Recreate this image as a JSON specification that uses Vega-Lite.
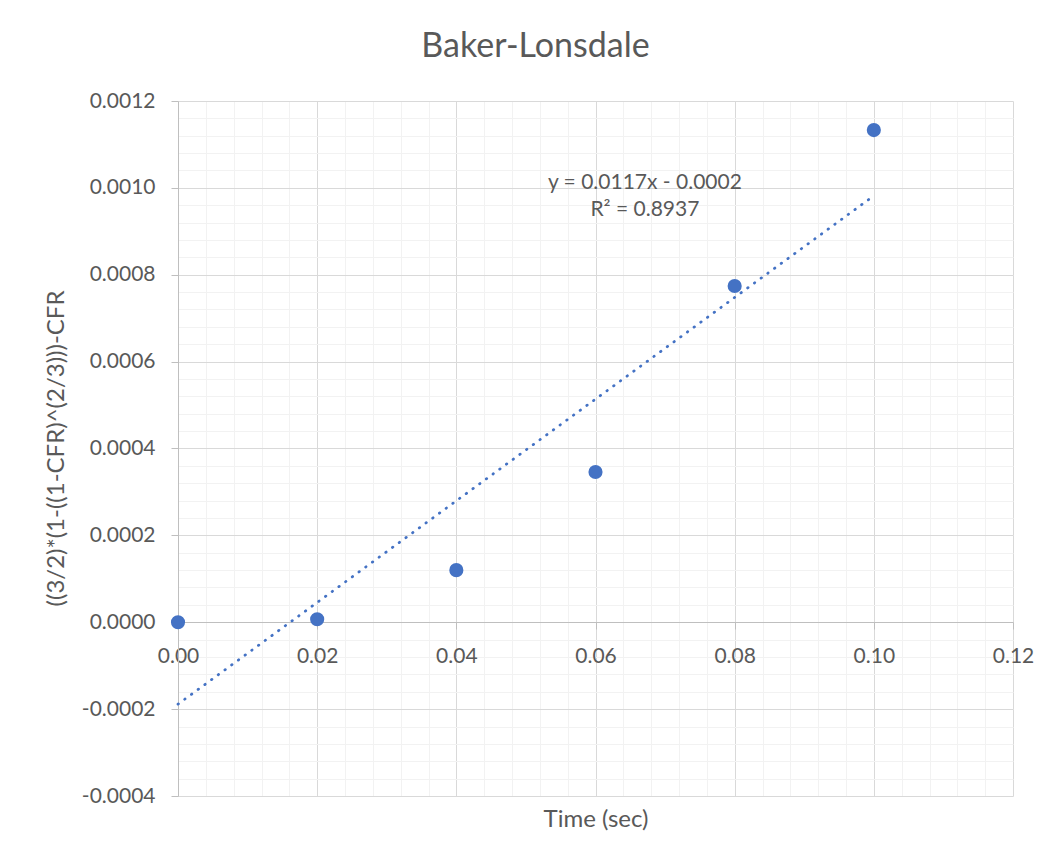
{
  "$schema": "https://vega.github.io/schema/vega-lite/v6.json",
  "width": 835,
  "height": 695,
  "autosize": {"type": "none"},
  "padding": {"left": 178, "top": 101, "right": 47, "bottom": 69},
  "background": "white",
  "title": {
    "text": "Baker-Lonsdale",
    "font": "Lato",
    "fontSize": 34,
    "fontWeight": "normal",
    "color": "#595959",
    "anchor": "middle",
    "frame": "group",
    "baseline": "alphabetic",
    "offset": 43,
    "dy": 44,
    "dx": -60
  },
  "data": {
    "values": [
      {"time": 0.0, "value": 0.0},
      {"time": 0.02, "value": 0.0000068},
      {"time": 0.04, "value": 0.00012},
      {"time": 0.06, "value": 0.000346},
      {"time": 0.08, "value": 0.000774},
      {"time": 0.1, "value": 0.001133}
    ]
  },
  "config": {
    "font": "Lato",
    "view": {"stroke": null},
    "axis": {
      "labelFont": "Lato",
      "titleFont": "Lato",
      "labelColor": "#595959",
      "titleColor": "#595959",
      "labelFontSize": 21,
      "titleFontSize": 24,
      "titleFontWeight": "normal",
      "domainColor": "#bfbfbf",
      "tickColor": "#bfbfbf",
      "gridWidth": 1,
      "labelFlush": false
    }
  },
  "layer": [
    {
      "description": "minor gridlines",
      "mark": {"type": "point", "opacity": 0},
      "encoding": {
        "x": {
          "field": "time", "type": "quantitative",
          "scale": {"domain": [0, 0.12], "nice": false, "zero": false},
          "axis": {
            "orient": "bottom", "grid": true, "gridColor": "#f2f2f2",
            "labels": false, "ticks": false, "domain": false, "title": null,
            "values": [0, 0.004, 0.008, 0.012, 0.016, 0.02, 0.024, 0.028, 0.032, 0.036, 0.04, 0.044, 0.048, 0.052, 0.056, 0.06, 0.064, 0.068, 0.072, 0.076, 0.08, 0.084, 0.088, 0.092, 0.096, 0.1, 0.104, 0.108, 0.112, 0.116, 0.12]
          }
        },
        "y": {
          "field": "value", "type": "quantitative",
          "scale": {"domain": [-0.0004, 0.0012], "nice": false, "zero": false},
          "axis": {
            "orient": "left", "grid": true, "gridColor": "#f2f2f2",
            "labels": false, "ticks": false, "domain": false, "title": null,
            "values": [-0.0004, -0.00036, -0.00032, -0.00028, -0.00024, -0.0002, -0.00016, -0.00012, -0.00008, -0.00004, 0, 0.00004, 0.00008, 0.00012, 0.00016, 0.0002, 0.00024, 0.00028, 0.00032, 0.00036, 0.0004, 0.00044, 0.00048, 0.00052, 0.00056, 0.0006, 0.00064, 0.00068, 0.00072, 0.00076, 0.0008, 0.00084, 0.00088, 0.00092, 0.00096, 0.001, 0.00104, 0.00108, 0.00112, 0.00116, 0.0012]
          }
        }
      }
    },
    {
      "description": "major gridlines, y axis and axis titles",
      "mark": {"type": "point", "opacity": 0},
      "encoding": {
        "x": {
          "field": "time", "type": "quantitative",
          "axis": {
            "orient": "bottom", "grid": true, "gridColor": "#d9d9d9",
            "labels": false, "ticks": false, "domain": false,
            "values": [0, 0.02, 0.04, 0.06, 0.08, 0.1, 0.12],
            "title": "Time (sec)", "titleBaseline": "alphabetic", "titleY": 30
          }
        },
        "y": {
          "field": "value", "type": "quantitative",
          "axis": {
            "orient": "left", "grid": true, "gridColor": "#d9d9d9",
            "values": [-0.0004, -0.0002, 0, 0.0002, 0.0004, 0.0006, 0.0008, 0.001, 0.0012],
            "labelExpr": "replace(format(datum.value, '.4f'), '\u2212', '-')",
            "tickSize": 7, "labelPadding": 16,
            "title": "((3/2)*(1-((1-CFR)^(2/3)))-CFR",
            "titleBaseline": "alphabetic", "titleX": -115, "titleY": 347
          }
        }
      }
    },
    {
      "description": "linear trendline over the measured range",
      "transform": [{"regression": "value", "on": "time", "extent": [0, 0.1]}],
      "mark": {"type": "line", "color": "#4472C4", "strokeWidth": 2.75, "strokeDash": [0.5, 7.8], "strokeCap": "round"},
      "encoding": {
        "x": {"field": "time", "type": "quantitative", "axis": null},
        "y": {"field": "value", "type": "quantitative", "axis": null}
      }
    },
    {
      "description": "measured points, x axis drawn along y = 0",
      "mark": {"type": "circle", "size": 200, "color": "#4472C4", "opacity": 1},
      "encoding": {
        "x": {
          "field": "time", "type": "quantitative",
          "axis": {
            "orient": "bottom", "offset": -174, "grid": false,
            "values": [0, 0.02, 0.04, 0.06, 0.08, 0.1, 0.12],
            "format": ".2f", "tickSize": 7, "labelPadding": 16, "title": null
          }
        },
        "y": {"field": "value", "type": "quantitative", "axis": null}
      }
    },
    {
      "description": "trendline equation",
      "data": {"values": [{}]},
      "mark": {
        "type": "text",
        "text": ["y = 0.0117x - 0.0002", "R\u00b2 = 0.8937"],
        "font": "Lato", "fontSize": 21, "color": "#595959",
        "align": "center", "baseline": "middle", "lineHeight": 27
      },
      "encoding": {
        "x": {"datum": 0.0671, "type": "quantitative", "axis": null},
        "y": {"datum": 0.0010106, "type": "quantitative", "axis": null}
      }
    }
  ],
  "resolve": {"axis": {"x": "independent", "y": "independent"}}
}
